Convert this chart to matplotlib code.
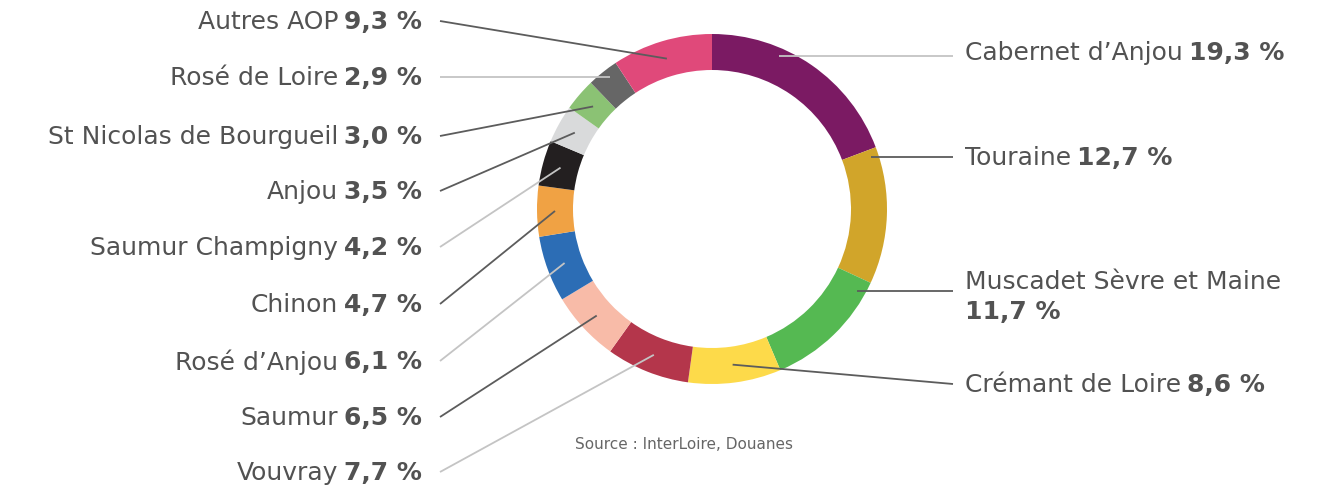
import numpy as np
import matplotlib
matplotlib.use("Agg")
import matplotlib.pyplot as plt

# Parts de volume par appellation (sens horaire depuis midi)
appellations = ["Cabernet d\u2019Anjou", "Touraine", "Muscadet S\u00e8vre et Maine",
                "Cr\u00e9mant de Loire", "Vouvray", "Saumur", "Ros\u00e9 d\u2019Anjou",
                "Chinon", "Saumur Champigny", "Anjou", "St Nicolas de Bourgueil",
                "Ros\u00e9 de Loire", "Autres AOP"]
shares = [19.3, 12.7, 11.7, 8.6, 7.7, 6.5, 6.1, 4.7, 4.2, 3.5, 3.0, 2.9, 9.3]
colors = ["#7b1a63", "#d1a52a", "#55b952", "#fdda4a", "#b4364b", "#f8bba8",
          "#2c6db5", "#f0a244", "#231f20", "#d9dadb", "#8bc274", "#666666",
          "#e0497a"]
source = "Source : InterLoire, Douanes"

# mise en page (pixels, origine en haut a gauche)
W, H = 1322, 489
CX, CY, R, RING = 712, 210, 175, 36
label_y = [53, 158, 282, 385, 473, 418, 362, 305, 248, 192, 137, 78, 22]
line_y = [57, 158, 292, 385, 473, 418, 362, 305, 248, 192, 137, 78, 22]
side = ["r"] * 4 + ["l"] * 9
line_col = ["#c4c4c4", "#5c5c5c", "#5c5c5c", "#5c5c5c", "#c4c4c4", "#5c5c5c",
            "#c4c4c4", "#5c5c5c", "#c4c4c4", "#5c5c5c", "#5c5c5c", "#c4c4c4",
            "#5c5c5c"]
TXT = "#525252"
FONT = "DejaVu Sans"
FS = 18

fig = plt.figure(figsize=(W / 100, H / 100), dpi=100)
ax = fig.add_axes([0, 0, 1, 1])

wedges, _ = ax.pie(shares, colors=colors, startangle=90, counterclock=False,
                   center=(CX, H - CY), radius=R, frame=True,
                   wedgeprops=dict(width=RING, linewidth=0))
ax.set_xlim(0, W)
ax.set_ylim(0, H)
ax.set_aspect("equal")
ax.axis("off")

renderer = fig.canvas.get_renderer()
rm = R - RING / 2
rh = R - 8


def anchor(w, y, s):
    # horizontal hit on the ring if it falls in the wedge, else wedge middle
    dy = (H - y) - (H - CY)
    t1, t2 = w.theta1 % 360, w.theta2 % 360
    if abs(dy) < rh:
        a = np.degrees(np.arcsin(dy / rh))
        if s == "l":
            a = 180 - a
        a %= 360
        inside = (t1 <= a <= t2) if t1 <= t2 else (a >= t1 or a <= t2)
        if inside:
            return CX + rh * np.cos(np.radians(a)), (H - CY) + rh * np.sin(np.radians(a))
    mid = np.radians((w.theta1 + w.theta2) / 2)
    return CX + rm * np.cos(mid), (H - CY) + rm * np.sin(mid)


for w, name, v, y, ly, s, lc in zip(wedges, appellations, shares, label_y,
                                     line_y, side, line_col):
    val = f"{v:.1f}".replace(".", ",") + " %"
    yy = H - y
    px, py = anchor(w, ly, s)
    if s == "l":
        ax.plot([440, px], [H - ly, py], color=lc, lw=1.3, solid_capstyle="butt")
        tv = ax.text(422, yy, val, ha="right", va="center", fontsize=FS,
                     fontweight="bold", color=TXT, family=FONT)
        wv = tv.get_window_extent(renderer).width
        ax.text(422 - wv - 6, yy, name, ha="right", va="center", fontsize=FS,
                color=TXT, family=FONT)
    else:
        ax.plot([953, px], [H - ly, py], color=lc, lw=1.3, solid_capstyle="butt")
        tn = ax.text(965, yy, name, ha="left", va="center", fontsize=FS,
                     color=TXT, family=FONT)
        if name.startswith("Muscadet"):
            ax.text(965, yy - 30, val, ha="left", va="center", fontsize=FS,
                    fontweight="bold", color=TXT, family=FONT)
        else:
            wn = tn.get_window_extent(renderer).width
            ax.text(965 + wn + 6, yy, val, ha="left", va="center", fontsize=FS,
                    fontweight="bold", color=TXT, family=FONT)

ax.text(684, H - 445, source, ha="center", va="center", fontsize=11,
        color="#666666", family=FONT)

fig.savefig("out.png", dpi=100)
